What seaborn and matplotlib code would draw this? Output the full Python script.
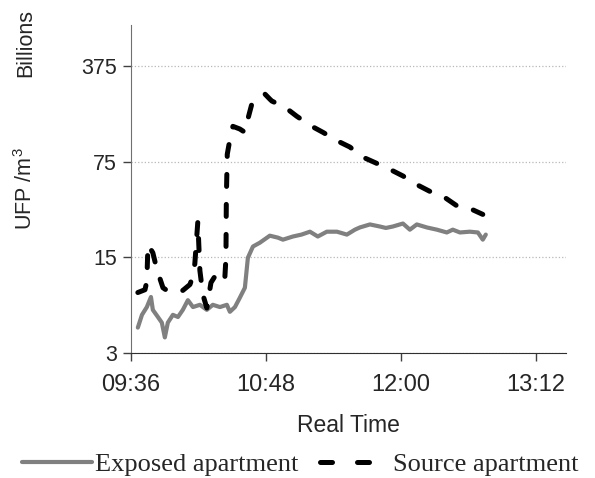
import seaborn as sns
import matplotlib.pyplot as plt
import matplotlib.dates as mdates
import pandas as pd

# minutes after 09:36, UFP in billions per m3
exposed_min = [3.7, 5.9, 8.5, 10.7, 11.7, 14.4, 16.5, 18.1, 19.7, 22.4, 25.1, 27.7, 30.4,
               33.1, 36.8, 40.5, 43.7, 47.5, 51.2, 52.8, 55.5, 58.1, 60.8, 62.4, 65.1,
               68.8, 74.1, 78.4, 81.1, 86.4, 91.0, 95.5, 99.7, 104.5, 109.9, 115.2, 119.5,
               122.1, 127.5, 132.8, 136.0, 139.7, 145.1, 148.8, 152.5, 157.9, 163.2,
               168.5, 171.7, 175.5, 180.8, 185.1, 187.7, 189.3]
exposed_val = [4.6, 5.7, 6.5, 7.7, 6.2, 5.5, 5.0, 3.9, 5.0, 5.7, 5.5, 6.2, 7.3,
               6.5, 6.75, 6.2, 6.75, 6.5, 6.75, 6.0, 6.5, 7.6, 9.0, 14.9, 18.0,
               19.2, 21.6, 20.9, 20.2, 21.3, 22.0, 23.1, 21.3, 23.1, 23.1, 22.0, 23.9,
               24.8, 26.1, 25.2, 24.6, 25.2, 26.5, 23.9, 26.1, 24.8, 23.9,
               22.8, 23.9, 22.8, 23.1, 22.8, 20.2, 22.0]

source_min = [3.7, 7.5, 8.5, 9.1, 11.7, 13.9, 17.1, 19.7, 23.5, 27.7, 31.5, 33.1, 34.1,
              35.7, 36.8, 38.4, 40.5, 42.7, 46.4, 50.1, 50.7, 50.9, 51.4, 52.8, 54.4,
              58.1, 60.8, 62.4, 64.5, 67.7, 71.5, 74.1, 75.2, 82.1, 88.5, 96.5, 102.4,
              110.4, 116.8, 123.7, 130.1, 138.1, 145.1, 152.5, 159.5, 167.5, 174.4,
              181.9, 187.7]
source_val = [8.3, 8.7, 10.0, 18.6, 16.2, 12.2, 9.0, 8.5, 8.4, 8.6, 9.5, 11.0, 13.5,
              27.4, 12.0, 8.0, 6.4, 9.8, 11.8, 10.6, 14.9, 40.0, 85.0, 109, 136,
              130, 123, 154, 198, 215, 234, 215, 208, 188, 161, 136, 123,
              106, 96, 81, 74, 66, 59, 51, 45.5, 41, 35.3,
              33.6, 30.9]

y_ticks = [3, 15, 75, 375]
x_tick_labels = ['09:36', '10:48', '12:00', '13:12']

start = pd.Timestamp('2000-01-01 09:36')
exp_df = pd.DataFrame({'time': start + pd.to_timedelta(exposed_min, unit='min'), 'ufp': exposed_val})
src_df = pd.DataFrame({'time': start + pd.to_timedelta(source_min, unit='min'), 'ufp': source_val})

sns.set_style('white')
plt.rcParams['font.family'] = ['Liberation Sans', 'DejaVu Sans']
plt.rcParams['mathtext.default'] = 'regular'

fig = plt.figure(figsize=(5.95, 4.78), dpi=100)
ax = fig.add_axes([0.220, 0.2615, 0.731, 0.6865])

sns.lineplot(data=exp_df, x='time', y='ufp', ax=ax, color='#808080', lw=3.0,
             label='Exposed apartment')
sns.lineplot(data=src_df, x='time', y='ufp', ax=ax, color='black', lw=3.6,
             dashes=False, label='Source apartment')
ax.lines[1].set_dashes([2.4, 3.6])
ax.lines[1].set_dash_capstyle('round')

ax.set_yscale('log')
ax.set_ylim(3, 750)
ax.set_yticks(y_ticks)
ax.set_yticklabels([str(t) for t in y_ticks], fontsize=15.5)
ax.minorticks_off()
ax.yaxis.grid(True, color='#b8b8b8', linestyle=':', linewidth=0.9)

xt = [pd.Timestamp('2000-01-01 ' + s) for s in x_tick_labels]
ax.set_xlim(start, start + pd.Timedelta(minutes=232))
ax.set_xticks(xt)
ax.xaxis.set_major_formatter(mdates.DateFormatter('%H:%M'))
ax.tick_params(axis='x', labelsize=17, direction='out', length=6, width=1, color='#404040',
               bottom=True, pad=9)
ax.tick_params(axis='y', direction='out', length=6, width=1, color='#404040', left=True, pad=4)

for s in ['top', 'right']:
    ax.spines[s].set_visible(False)
ax.spines['left'].set_color('#707070')
ax.spines['bottom'].set_color('#303030')

ax.set_xlabel('Real Time', fontsize=16.5, labelpad=13)
ax.set_ylabel('UFP /m$^3$', fontsize=15.5)
ax.yaxis.set_label_coords(-0.215, 0.5)
fig.text(0.044, 0.982, 'Billions', rotation=90, ha='center', va='top', fontsize=15.5)

ax.legend_.remove()
h, l = ax.get_legend_handles_labels()
leg = fig.legend(h, l, loc='lower center', bbox_to_anchor=(0.505, -0.018), ncol=2, frameon=False,
                 prop={'family': 'Liberation Serif', 'size': 19}, handlelength=2.65,
                 columnspacing=0.8, handletextpad=0.12, borderaxespad=0)
leg.get_lines()[1].set_dashes([2.4, 5.0])
leg.get_lines()[1].set_dash_capstyle('round')

fig.savefig('out.png', dpi=100)
